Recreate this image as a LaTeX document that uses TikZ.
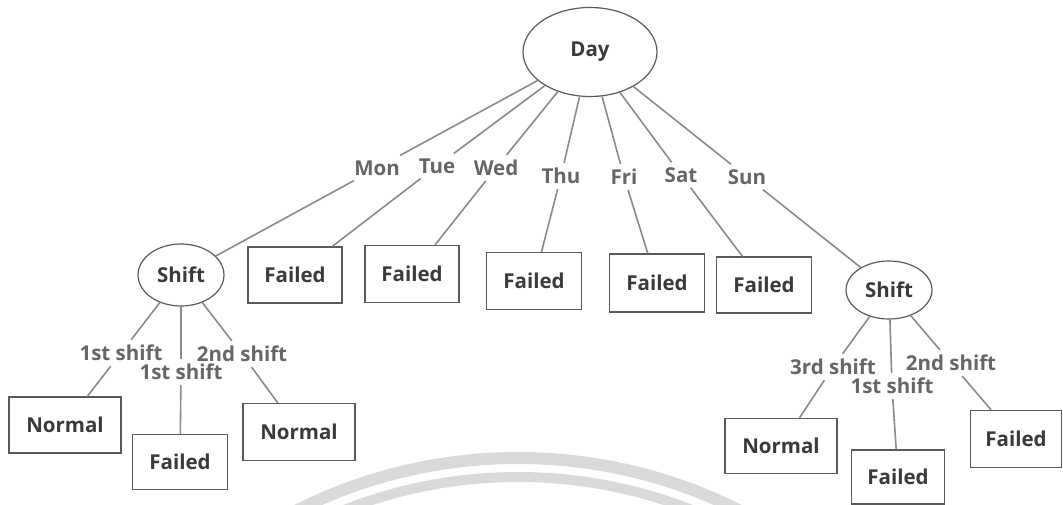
\documentclass[tikz,border=0pt]{standalone}
\usepackage{fontspec}
\setmainfont{Open Sans}
\usetikzlibrary{shapes.geometric}
\definecolor{boxtext}{HTML}{3A3A3A}
\definecolor{labtext}{HTML}{666666}
\definecolor{wire}{HTML}{8A8A8A}
\definecolor{frame}{HTML}{5A5A5A}
\definecolor{ring}{HTML}{DADADA}
\begin{document}
\begin{tikzpicture}[x=1pt,y=-1pt,
  every node/.style={font=\fontsize{20.5}{23}\selectfont\bfseries},
  oval/.style={ellipse,draw=frame,line width=1.2pt,text=boxtext,inner sep=0pt},
  box/.style={rectangle,draw=frame,line width=1.2pt,text=boxtext,inner sep=0pt},
  lab/.style={text=labtext,inner sep=5pt},
  wire/.style={draw=wire,line width=1.6pt}]
\useasboundingbox (0,0) rectangle (1063,505);

% faint ring in the lower middle
\begin{scope}
\clip (0,0) rectangle (1063,505);
\draw[ring,line width=12pt] (518,950) circle[radius=492];
\draw[ring,line width=10pt] (518,950) circle[radius=473];
\end{scope}

% root
\node[oval,minimum width=134,minimum height=89] (day) at (590,52) {Day};

% day labels
\node[lab] (mon) at (377,168) {Mon};
\node[lab] (tue) at (437,166) {Tue};
\node[lab] (wed) at (496,168) {Wed};
\node[lab] (thu) at (561,176) {Thu};
\node[lab] (fri) at (624,177) {Fri};
\node[lab] (sat) at (681,175) {Sat};
\node[lab] (sun) at (747,177) {Sun};

% second level
\node[oval,minimum width=86,minimum height=62] (shiftL) at (181,275) {Shift};
\node[box,minimum width=94,minimum height=56] (f1) at (295,275) {Failed};
\node[box,minimum width=94,minimum height=57] (f2) at (412,274) {Failed};
\node[box,minimum width=95,minimum height=57] (f3) at (534,281) {Failed};
\node[box,minimum width=95,minimum height=58] (f4) at (657,283) {Failed};
\node[box,minimum width=95,minimum height=56] (f5) at (764,285) {Failed};
\node[oval,minimum width=86,minimum height=58] (shiftR) at (889,290) {Shift};

% left shift labels and leaves
\node[lab] (l1) at (121,353) {1st shift};
\node[lab] (l2) at (181,372) {1st shift};
\node[lab] (l3) at (242,354) {2nd shift};
\node[box,minimum width=112,minimum height=56] (n1) at (65,425) {Normal};
\node[box,minimum width=95,minimum height=55] (f6) at (180,462) {Failed};
\node[box,minimum width=112,minimum height=57] (n2) at (299,432) {Normal};

% right shift labels and leaves
\node[lab] (r1) at (833,367) {3rd shift};
\node[lab] (r2) at (892,386) {1st shift};
\node[lab] (r3) at (951,363) {2nd shift};
\node[box,minimum width=112,minimum height=55] (n3) at (781,446) {Normal};
\node[box,minimum width=93,minimum height=54] (f7) at (898,477) {Failed};
\node[box,minimum width=91,minimum height=57] (f8) at (1016,439) {Failed};

% connectors: day -> label -> child
\draw[wire] (day) -- (mon) (mon) -- (shiftL);
\draw[wire] (day) -- (tue) (tue) -- (f1);
\draw[wire] (day) -- (wed) (wed) -- (f2);
\draw[wire] (day) -- (thu) (thu) -- (f3);
\draw[wire] (day) -- (fri) (fri) -- (f4);
\draw[wire] (day) -- (sat) (sat) -- (f5);
\draw[wire] (day) -- (sun) (sun) -- (shiftR);

% connectors under the left shift
\draw[wire] (shiftL) -- (l1) (l1) -- (n1);
\draw[wire] (shiftL) -- (l2) (l2) -- (f6);
\draw[wire] (shiftL) -- (l3) (l3) -- (n2);

% connectors under the right shift
\draw[wire] (shiftR) -- (r1) (r1) -- (n3);
\draw[wire] (shiftR) -- (r2) (r2) -- (f7);
\draw[wire] (shiftR) -- (r3) (r3) -- (f8);
\end{tikzpicture}
\end{document}
